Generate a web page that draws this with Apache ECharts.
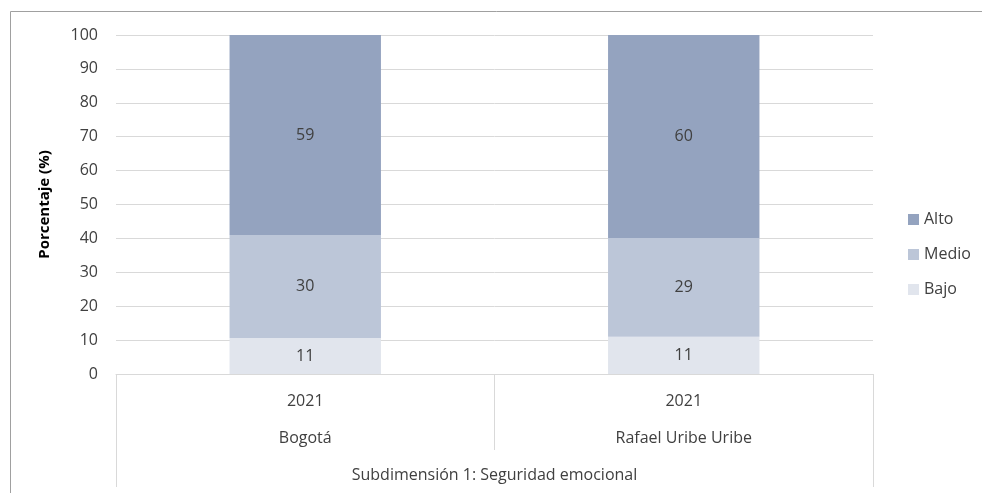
<!DOCTYPE html>
<html><head><meta charset="utf-8">
<script src="https://cdn.jsdelivr.net/npm/echarts@6/dist/echarts.min.js"></script>
<style>html,body{margin:0;padding:0;background:#fff}#c{width:982px;height:493px}</style>
</head><body><div id="c"></div>
<script>
const years = ['2021', '2021'];
const places = ['Bogotá', 'Rafael Uribe Uribe'];
const group = ['Subdimensión 1: Seguridad emocional'];
const bajo = [10.6, 11.0];
const medio = [30.4, 29.1];
const alto = [59.0, 59.9];
const yTicks = [0, 10, 20, 30, 40, 50, 60, 70, 80, 90, 100];

const FONT = '"Open Sans", "Noto Sans", sans-serif';
const FS = 16;
const chart = echarts.init(document.getElementById('c'));
const lbl = {show: true, position: 'inside', color: '#404040', fontSize: FS, fontFamily: FONT,
  formatter: p => Math.round(p.value)};
chart.setOption({
  animation: false,
  textStyle: {fontFamily: FONT},
  grid: {left: 116, right: 109, top: 35, bottom: 119},
  graphic: [{type: 'rect', shape: {x: 10.5, y: 11.5, width: 1000, height: 600},
    style: {fill: 'none', stroke: '#a0a0a0', lineWidth: 1}, silent: true}],
  legend: {orient: 'vertical', left: 903, top: 204, itemGap: 14, itemWidth: 11, itemHeight: 11,
    icon: 'rect', itemTextGap: 4, data: ['Alto', 'Medio', 'Bajo'],
    textStyle: {color: '#404040', fontSize: FS, fontFamily: FONT, lineHeight: 21}},
  yAxis: {type: 'value', min: 0, max: 100, interval: 10,
    name: 'Porcentaje (%)', nameLocation: 'middle', nameGap: 64,
    nameTextStyle: {color: '#000', fontSize: 15, fontWeight: 'bold', fontFamily: FONT},
    axisLine: {show: false}, axisTick: {show: false},
    axisLabel: {color: '#404040', fontSize: FS, margin: 18, fontFamily: FONT,
      formatter: v => yTicks.includes(v) ? String(v) : ''},
    splitLine: {lineStyle: {color: '#d9d9d9', width: 1}}},
  xAxis: [
    {type: 'category', data: years, position: 'bottom',
      axisLine: {lineStyle: {color: '#d9d9d9'}},
      axisTick: {show: true, length: 76, interval: 0, lineStyle: {color: '#d9d9d9'}},
      axisLabel: {color: '#404040', fontSize: FS, margin: 19, fontFamily: FONT}},
    {type: 'category', data: places, position: 'bottom',
      axisLine: {show: false}, axisTick: {show: false},
      axisLabel: {color: '#404040', fontSize: FS, margin: 56, interval: 0, fontFamily: FONT}},
    {type: 'category', data: group, position: 'bottom',
      axisLine: {show: false},
      axisTick: {show: true, length: 113, interval: 0, lineStyle: {color: '#d9d9d9'}},
      axisLabel: {color: '#404040', fontSize: FS, margin: 93, interval: 0, fontFamily: FONT}}
  ],
  series: [
    {name: 'Bajo', type: 'bar', stack: 's', xAxisIndex: 0, data: bajo, barWidth: '40%',
      itemStyle: {color: '#e1e5ed'}, label: lbl},
    {name: 'Medio', type: 'bar', stack: 's', xAxisIndex: 0, data: medio, barWidth: '40%',
      itemStyle: {color: '#bcc6d8'}, label: lbl},
    {name: 'Alto', type: 'bar', stack: 's', xAxisIndex: 0, data: alto, barWidth: '40%',
      itemStyle: {color: '#94a3bf'}, label: lbl}
  ]
});
</script></body></html>
